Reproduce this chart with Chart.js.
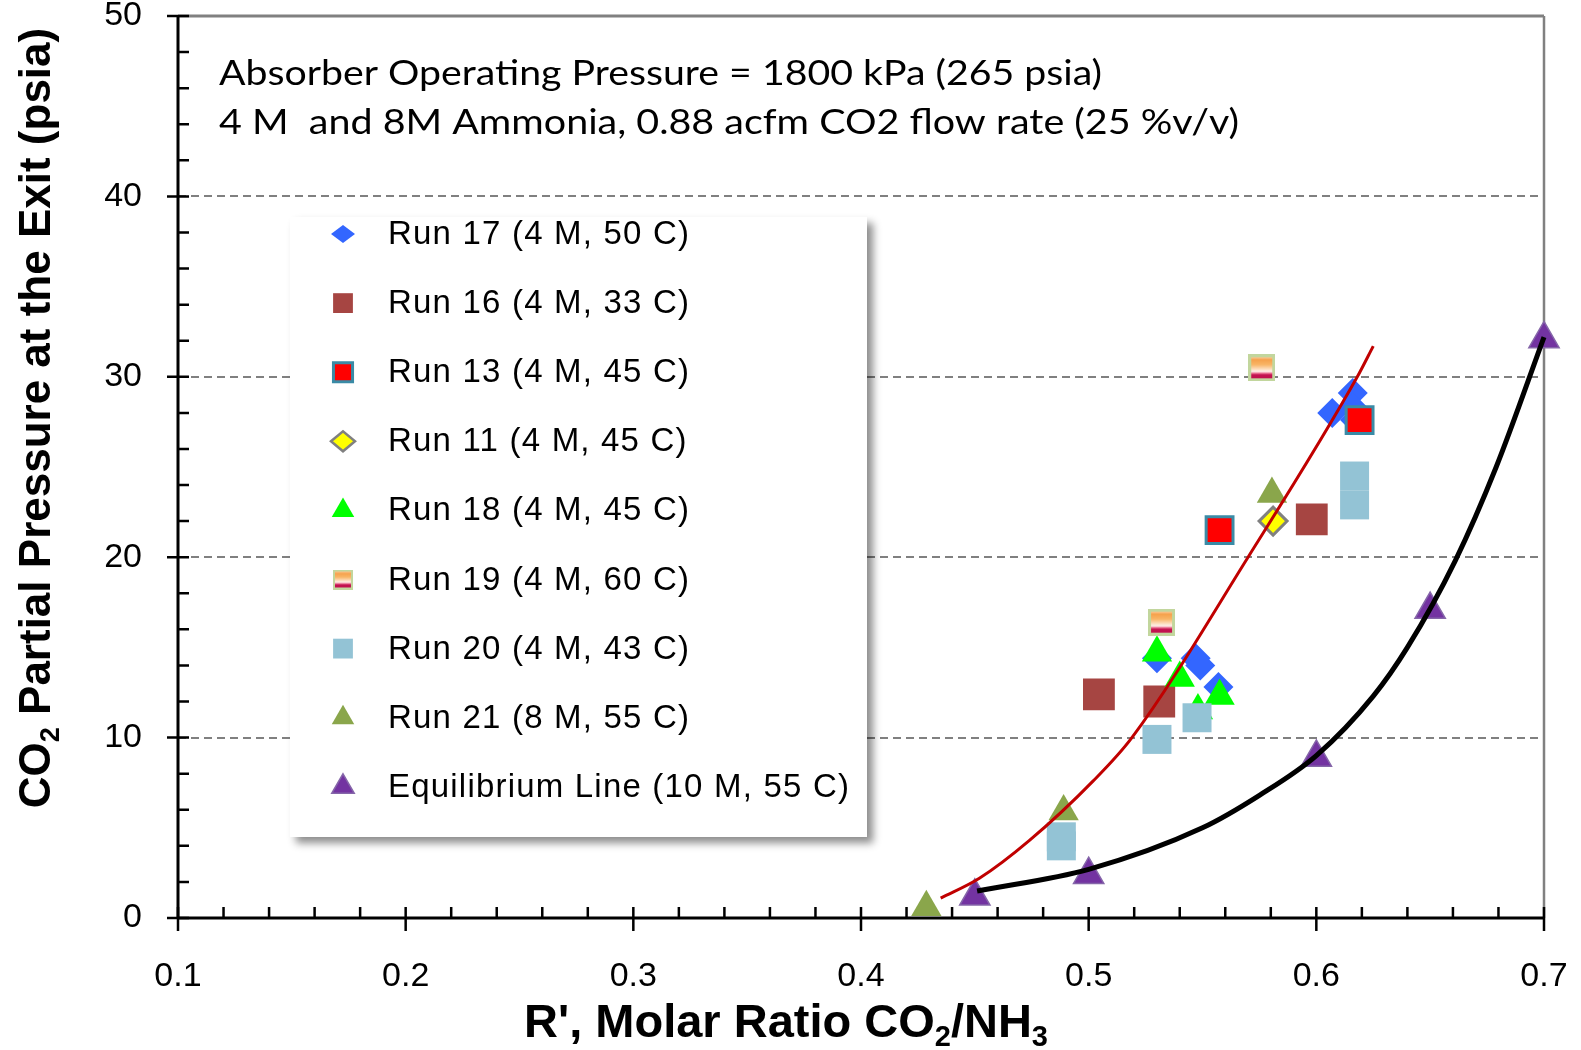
<!DOCTYPE html>
<html>
<head>
<meta charset="utf-8">
<script src="https://cdn.jsdelivr.net/npm/chart.js@4.4.1/dist/chart.umd.min.js"></script>
<style>
  html, body { margin: 0; padding: 0; background: #fff; }
  canvas { display: block; }
</style>
</head>
<body>
<canvas id="co2Chart" width="1581" height="1050"></canvas>
<script>
/* ── data ── */
const run17X = [0.607, 0.616, 0.616, 0.617, 0.530, 0.547, 0.549, 0.557];
const run17Y = [28.0, 29.1, 28.3, 27.6, 14.4, 14.4, 14.0, 12.8];
const run16X = [0.5045, 0.531, 0.598];
const run16Y = [12.4, 12.0, 22.1];
const run13X = [0.5575, 0.619];
const run13Y = [21.5, 27.6];
const run11X = [0.581];
const run11Y = [22.0];
const run18X = [0.530, 0.540, 0.548, 0.5575];
const run18Y = [14.7, 13.3, 11.5, 12.3];
const run19X = [0.532, 0.576];
const run19Y = [16.4, 30.5];
const run20X = [0.488, 0.488, 0.530, 0.5476, 0.6168, 0.6168];
const run20Y = [4.0, 4.5, 9.9, 11.1, 22.9, 24.5];
const run21X = [0.4287, 0.489, 0.5805];
const run21Y = [0.6, 5.9, 23.5];
const eqX = [0.45, 0.50, 0.60, 0.65, 0.70];
const eqY = [1.2, 2.4, 8.9, 17.1, 32.1];

// trend lines, read at several x positions
const redTrendX = [0.435, 0.452, 0.474, 0.502, 0.519, 0.570, 0.618, 0.625];
const redTrendY = [1.1, 2.2, 4.3, 7.6, 10.0, 20.0, 30.0, 31.7];
const eqTrendX = [0.451, 0.50, 0.55, 0.575, 0.60, 0.625, 0.64, 0.661, 0.679, 0.70];
const eqTrendY = [1.5, 2.7, 5.0, 6.8, 9.0, 12.3, 15.0, 19.8, 25.0, 32.2];

const yTicks = [0, 10, 20, 30, 40, 50];
const xTicks = [0.1, 0.2, 0.3, 0.4, 0.5, 0.6, 0.7];

const noteLines = [
  'Absorber Operating Pressure = 1800 kPa (265 psia)',
  '4 M  and 8M Ammonia, 0.88 acfm CO2 flow rate (25 %v/v)'
];

/* ── style ── */
const FONT = '"Liberation Sans", Arial, sans-serif';
Chart.defaults.font.family = FONT;
Chart.defaults.color = '#000';

const pts = (xs, ys) => xs.map((x, i) => ({ x, y: ys[i] }));

function run19Marker(size) {
  const c = document.createElement('canvas');
  c.width = c.height = size;
  const g = c.getContext('2d');
  const b = Math.max(2, Math.round(size * 0.11));
  g.fillStyle = '#c2d69d';
  g.fillRect(0, 0, size, size);
  const grad = g.createLinearGradient(0, b, 0, size - b);
  grad.addColorStop(0, '#fbc996');
  grad.addColorStop(0.12, '#f6a24c');
  grad.addColorStop(0.35, '#f9b566');
  grad.addColorStop(0.68, '#fff4ee');
  grad.addColorStop(0.76, '#ec6e90');
  grad.addColorStop(0.84, '#c2124f');
  grad.addColorStop(1, '#c2124f');
  g.fillStyle = grad;
  g.fillRect(b, b, size - 2 * b, size - 2 * b);
  return c;
}

const run19Big = run19Marker(27);
const run19Small = run19Marker(20);

let order = 30;
function markerSet(label, xs, ys, style, radius, fill, border, bw, legend) {
  return {
    label,
    data: pts(xs, ys),
    showLine: false,
    pointStyle: style,
    pointRadius: radius,
    pointHoverRadius: radius,
    pointBackgroundColor: fill,
    pointBorderColor: border || fill,
    pointBorderWidth: bw || 0,
    clip: false,
    order: order--,
    legendMarker: legend,
  };
}

function trendSet(xs, ys, color, width) {
  return {
    label: '',
    data: pts(xs, ys),
    showLine: true,
    borderColor: color,
    borderWidth: width,
    pointRadius: 0,
    pointHoverRadius: 0,
    cubicInterpolationMode: 'monotone',
    fill: false,
    clip: false,
    order: order--,
  };
}

/* ── plugins: axes frame, legend box, texts ── */
const frame = {
  id: 'frame',
  beforeDatasetsDraw(chart) {
    const { ctx, chartArea: a, scales: { x, y } } = chart;
    ctx.save();
    ctx.lineCap = 'butt';
    ctx.strokeStyle = '#808080';
    ctx.lineWidth = 3;
    ctx.beginPath();
    ctx.moveTo(a.left, a.top); ctx.lineTo(a.right, a.top);
    ctx.stroke();
    ctx.lineWidth = 2.5;
    ctx.beginPath();
    ctx.moveTo(a.right, a.top); ctx.lineTo(a.right, a.bottom);
    ctx.stroke();

    ctx.strokeStyle = '#000';
    ctx.lineWidth = 3;
    ctx.beginPath();
    ctx.moveTo(a.left, a.top - 1); ctx.lineTo(a.left, a.bottom);
    ctx.moveTo(a.left, a.bottom); ctx.lineTo(a.right, a.bottom);
    ctx.stroke();

    ctx.lineWidth = 2.5;
    ctx.beginPath();
    for (let v = 0; v <= 50; v += 2) {
      const py = y.getPixelForValue(v);
      const major = v % 10 === 0;
      ctx.moveTo(a.left - (major ? 11 : 0), py);
      ctx.lineTo(a.left + 11, py);
    }
    for (let k = 0; k <= 30; k++) {
      const px = x.getPixelForValue(0.1 + k * 0.02);
      const major = k % 5 === 0;
      ctx.moveTo(px, a.bottom + (major ? 13 : 0));
      ctx.lineTo(px, a.bottom - 11);
    }
    ctx.stroke();
    ctx.restore();
  }
};

const legendBox = {
  id: 'legendBox',
  afterDatasetsDraw(chart) {
    const ctx = chart.ctx;
    ctx.save();
    ctx.shadowColor = 'rgba(0,0,0,0.45)';
    ctx.shadowBlur = 8;
    ctx.shadowOffsetX = 6;
    ctx.shadowOffsetY = 6;
    ctx.fillStyle = '#fff';
    ctx.fillRect(290, 217, 577, 620);
    ctx.restore();

    ctx.save();
    let row = 0;
    chart.data.datasets.forEach(ds => {
      if (!ds.label) return;
      const cy = 234 + row * 69.1;
      const m = ds.legendMarker;
      if (m.image) {
        ctx.drawImage(m.image, 343 - m.image.width / 2, cy - m.image.height / 2);
      } else {
        ctx.fillStyle = ds.pointBackgroundColor;
        ctx.strokeStyle = ds.pointBorderColor;
        ctx.lineWidth = m.bw || 0;
        Chart.helpers.drawPointLegend(ctx, {
          pointStyle: ds.pointStyle, radius: m.r, rotation: 0, borderWidth: m.bw || 0
        }, 343, cy, m.w);
      }
      ctx.fillStyle = '#000';
      ctx.font = `33px ${FONT}`;
      ctx.letterSpacing = '1.2px';
      ctx.textBaseline = 'middle';
      ctx.textAlign = 'left';
      ctx.fillText(ds.label, 388, cy + 1);
      row++;
    });
    ctx.restore();
  }
};

function drawRich(ctx, parts, cx, cy, size) {
  let total = 0;
  const widths = parts.map(p => {
    ctx.font = `bold ${p.sub ? Math.round(size * 0.62) : size}px ${FONT}`;
    const w = ctx.measureText(p.t).width;
    total += w;
    return w;
  });
  let xPos = cx - total / 2;
  parts.forEach((p, i) => {
    ctx.font = `bold ${p.sub ? Math.round(size * 0.62) : size}px ${FONT}`;
    ctx.fillText(p.t, xPos, cy + (p.sub ? size * 0.3 : 0));
    xPos += widths[i];
  });
}

const texts = {
  id: 'texts',
  afterDraw(chart) {
    const ctx = chart.ctx;
    ctx.save();
    ctx.fillStyle = '#000';
    ctx.textAlign = 'left';
    ctx.textBaseline = 'alphabetic';

    // note inside the plot
    const targets = [883, 1020];
    const baselines = [85, 134];
    ctx.font = `35px Lato, "Open Sans", sans-serif`;
    noteLines.forEach((line, i) => {
      const w = ctx.measureText(line).width;
      ctx.save();
      ctx.translate(219, baselines[i]);
      ctx.scale(targets[i] / w, 1);
      ctx.fillText(line, 0, 0);
      ctx.restore();
    });

    ctx.textBaseline = 'middle';
    // x title
    drawRich(ctx, [
      { t: "R', Molar Ratio CO" }, { t: '2', sub: true }, { t: '/NH' }, { t: '3', sub: true }
    ], 786, 1024, 47);

    // y title
    ctx.translate(38, 418);
    ctx.rotate(-Math.PI / 2);
    drawRich(ctx, [
      { t: 'CO' }, { t: '2', sub: true }, { t: ' Partial Pressure at the Exit (psia)' }
    ], 0, 0, 44);
    ctx.restore();
  }
};

/* ── chart ── */
new Chart(document.getElementById('co2Chart'), {
  type: 'scatter',
  data: {
    datasets: [
      markerSet('Run 17 (4 M, 50 C)', run17X, run17Y, 'rectRot', 15, '#3366ff', null, 0, { r: 9, w: 24 }),
      markerSet('Run 16 (4 M, 33 C)', run16X, run16Y, 'rect', 22.5, '#a64542', null, 0, { r: 14 }),
      markerSet('Run 13 (4 M, 45 C)', run13X, run13Y, 'rect', 19, '#ff0000', '#3a8ba6', 3, { r: 13.5, bw: 3 }),
      markerSet('Run 11 (4 M, 45 C)', run11X, run11Y, 'rectRot', 14, '#ffff00', '#808080', 3, { r: 10, w: 24, bw: 2.5 }),
      markerSet('Run 18 (4 M, 45 C)', run18X, run18Y, 'triangle', 17.5, '#00ff00', null, 0, { r: 13 }),
      markerSet('Run 19 (4 M, 60 C)', run19X, run19Y, run19Big, 13.5, '#f6a24c', null, 0, { image: run19Small }),
      markerSet('Run 20 (4 M, 43 C)', run20X, run20Y, 'rect', 20.5, '#93c3d5', null, 0, { r: 14 }),
      markerSet('Run 21 (8 M, 55 C)', run21X, run21Y, 'triangle', 17.5, '#8aa64b', null, 0, { r: 13 }),
      markerSet('Equilibrium Line (10 M, 55 C)', eqX, eqY, 'triangle', 17.5, '#7333a1', '#8566a9', 1.5, { r: 13, bw: 1.5 }),
      trendSet(redTrendX, redTrendY, '#c00000', 3),
      trendSet(eqTrendX, eqTrendY, '#000000', 5),
    ]
  },
  options: {
    responsive: false,
    animation: false,
    layout: { autoPadding: false, padding: { left: 0, right: 37, top: 16, bottom: 0 } },
    plugins: {
      legend: { display: false },
      tooltip: { enabled: false },
    },
    scales: {
      x: {
        type: 'linear',
        min: 0.1, max: 0.7,
        afterBuildTicks: s => { s.ticks = xTicks.map(v => ({ value: v })); },
        afterFit: s => { s.height = 132; s.paddingLeft = 0; s.paddingRight = 0; },
        grid: { display: false, drawTicks: false },
        border: { display: false },
        ticks: {
          font: { size: 34 },
          color: '#000',
          padding: 38,
          maxRotation: 0,
          callback: v => v.toFixed(1),
        },
      },
      y: {
        type: 'linear',
        min: 0, max: 50,
        afterBuildTicks: s => { s.ticks = yTicks.map(v => ({ value: v })); },
        afterFit: s => { s.width = 178; s.paddingTop = 0; s.paddingBottom = 0; },
        grid: {
          drawTicks: false,
          lineWidth: 2,
          color: c => (c.tick && (c.tick.value === 0 || c.tick.value === 50)) ? 'rgba(0,0,0,0)' : '#808080',
        },
        border: { display: false, dash: [8, 5] },
        ticks: {
          font: { size: 34 },
          color: '#000',
          padding: 36,
        },
      }
    }
  },
  plugins: [frame, legendBox, texts]
});
</script>
</body>
</html>
